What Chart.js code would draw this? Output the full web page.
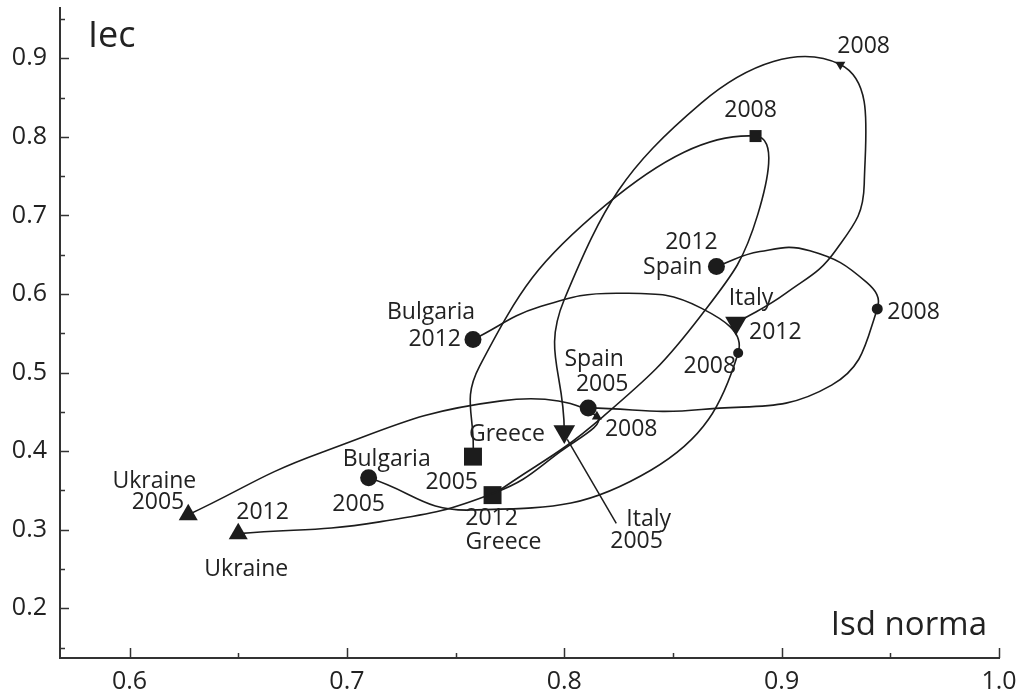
<!DOCTYPE html>
<html>
<head>
<meta charset="utf-8">
<script src="https://cdn.jsdelivr.net/npm/chart.js@4.4.0/dist/chart.umd.min.js"></script>
<style>
  html, body { margin: 0; padding: 0; background: #fff; }
</style>
</head>
<body>
<canvas id="myChart" width="1028" height="700"></canvas>
<script>
// yearly positions, only 2005 / 2008 / 2012 get a marker
const years = [2005, 2006, 2007, 2008, 2009, 2010, 2011, 2012];
const markedYears = [2005, 2008, 2012];

const ukraineIsd = [0.627, 0.688, 0.771, 0.815, 0.798, 0.768, 0.715, 0.650];
const ukraineIec = [0.319, 0.398, 0.464, 0.444, 0.399, 0.347, 0.310, 0.295];

const bulgariaIsd = [0.710, 0.757, 0.840, 0.880, 0.863, 0.826, 0.789, 0.758];
const bulgariaIec = [0.366, 0.325, 0.376, 0.525, 0.582, 0.601, 0.584, 0.542];

const greeceIsd = [0.758, 0.761, 0.819, 0.888, 0.889, 0.863, 0.817, 0.767];
const greeceIec = [0.393, 0.508, 0.713, 0.801, 0.701, 0.573, 0.442, 0.344];

const spainIsd = [0.811, 0.863, 0.923, 0.944, 0.939, 0.913, 0.890, 0.870];
const spainIec = [0.455, 0.453, 0.484, 0.581, 0.615, 0.655, 0.654, 0.635];

const italyIsd = [0.800, 0.800, 0.863, 0.927, 0.938, 0.925, 0.902, 0.879];
const italyIec = [0.425, 0.593, 0.843, 0.892, 0.740, 0.656, 0.601, 0.563];

const xTicks = [0.6, 0.7, 0.8, 0.9, 1.0];
const yTicks = [0.2, 0.3, 0.4, 0.5, 0.6, 0.7, 0.8, 0.9];

const INK = '#1c1c1c';
const FONT = '"Open Sans", "DejaVu Sans", sans-serif';

const countries = [
  { name: 'Ukraine', isd: ukraineIsd, iec: ukraineIec, style: 'triangle', rot: 0, big: 11, small: 5.8 },
  { name: 'Bulgaria', isd: bulgariaIsd, iec: bulgariaIec, style: 'circle', rot: 0, big: 8.5, small: 5 },
  { name: 'Greece', isd: greeceIsd, iec: greeceIec, style: 'rect', rot: 0, big: 12.7, small: 8.5 },
  { name: 'Spain', isd: spainIsd, iec: spainIec, style: 'circle', rot: 0, big: 8.5, small: 5.5 },
  { name: 'Italy', isd: italyIsd, iec: italyIec, style: 'triangle', rot: 180, big: 12.5, small: 5.8 }
];

// text next to markers: offsets in px from the marker
const notes = [
  { c: 'Ukraine', y: 2005, t: 'Ukraine', dx: 8, dy: -33, a: 'right' },
  { c: 'Ukraine', y: 2005, t: '2005', dx: -4, dy: -12, a: 'right' },
  { c: 'Ukraine', y: 2008, t: '2008', dx: 8, dy: 13, a: 'left' },
  { c: 'Ukraine', y: 2012, t: '2012', dx: -2, dy: -21, a: 'left' },
  { c: 'Ukraine', y: 2012, t: 'Ukraine', dx: 8, dy: 36, a: 'center' },
  { c: 'Bulgaria', y: 2005, t: 'Bulgaria', dx: 18, dy: -18, a: 'center' },
  { c: 'Bulgaria', y: 2005, t: '2005', dx: -10, dy: 27, a: 'center' },
  { c: 'Bulgaria', y: 2008, t: '2008', dx: -2, dy: 14, a: 'right' },
  { c: 'Bulgaria', y: 2012, t: 'Bulgaria', dx: -42, dy: -27, a: 'center' },
  { c: 'Bulgaria', y: 2012, t: '2012', dx: -12, dy: 0, a: 'right' },
  { c: 'Greece', y: 2005, t: 'Greece', dx: -4, dy: -22, a: 'left' },
  { c: 'Greece', y: 2005, t: '2005', dx: 5, dy: 26, a: 'right' },
  { c: 'Greece', y: 2008, t: '2008', dx: -5, dy: -26, a: 'center' },
  { c: 'Greece', y: 2012, t: '2012', dx: -1, dy: 23, a: 'center' },
  { c: 'Greece', y: 2012, t: 'Greece', dx: 11, dy: 47, a: 'center' },
  { c: 'Spain', y: 2005, t: 'Spain', dx: 6, dy: -48, a: 'center' },
  { c: 'Spain', y: 2005, t: '2005', dx: 14, dy: -23, a: 'center' },
  { c: 'Spain', y: 2008, t: '2008', dx: 10, dy: 4, a: 'left' },
  { c: 'Spain', y: 2012, t: '2012', dx: -25, dy: -24, a: 'center' },
  { c: 'Spain', y: 2012, t: 'Spain', dx: -14, dy: 1, a: 'right' },
  { c: 'Italy', y: 2005, t: 'Italy', dx: 62, dy: 88, a: 'left' },
  { c: 'Italy', y: 2005, t: '2005', dx: 46, dy: 110, a: 'left' },
  { c: 'Italy', y: 2008, t: '2008', dx: -3, dy: -18, a: 'left' },
  { c: 'Italy', y: 2012, t: 'Italy', dx: 15, dy: -25, a: 'center' },
  { c: 'Italy', y: 2012, t: '2012', dx: 13, dy: 9, a: 'left' }
];

function pointOf(chart, name, year) {
  const c = countries.find(k => k.name === name);
  const i = years.indexOf(year);
  return {
    x: chart.scales.x.getPixelForValue(c.isd[i]),
    y: chart.scales.y.getPixelForValue(c.iec[i])
  };
}

const datasets = countries.map(c => ({
  label: c.name,
  data: years.map((yr, i) => ({ x: c.isd[i], y: c.iec[i] })),
  showLine: true,
  tension: 0.45,
  borderColor: INK,
  borderWidth: 1.6,
  backgroundColor: INK,
  pointBackgroundColor: INK,
  pointBorderWidth: 0,
  pointStyle: c.style,
  rotation: c.rot,
  pointRadius: ctx => {
    const yr = years[ctx.dataIndex];
    if (!markedYears.includes(yr)) return 0;
    return yr === 2008 ? c.small : c.big;
  },
  pointHoverRadius: 0
}));

// inward tick marks, labels and axis names
const decorations = {
  id: 'decorations',
  afterDraw(chart) {
    const ctx = chart.ctx;
    const xs = chart.scales.x, ys = chart.scales.y;
    const area = chart.chartArea;
    ctx.save();
    ctx.strokeStyle = '#333';
    ctx.lineWidth = 1.5;
    const xs2 = xTicks.flatMap(v => [[v, 10], [v - 0.05, 5]]).concat([[xTicks[xTicks.length - 1] + 0.05, 5]]);
    xs2.forEach(([v, len]) => {
      if (v < xs.min - 1e-9 || v > xs.max + 1e-9) return;
      const px = Math.round(xs.getPixelForValue(v)) + 0.5;
      ctx.beginPath();
      ctx.moveTo(px, area.bottom);
      ctx.lineTo(px, area.bottom - len);
      ctx.stroke();
    });
    const ys2 = yTicks.flatMap(v => [[v, 9], [v - 0.05, 5]]).concat([[yTicks[yTicks.length - 1] + 0.05, 5]]);
    ys2.forEach(([v, len]) => {
      if (v < ys.min - 1e-9 || v > ys.max + 1e-9) return;
      const py = Math.round(ys.getPixelForValue(v)) + 0.5;
      ctx.beginPath();
      ctx.moveTo(area.left, py);
      ctx.lineTo(area.left + len, py);
      ctx.stroke();
    });

    // leader line for Italy 2005
    const it = pointOf(chart, 'Italy', 2005);
    ctx.strokeStyle = INK;
    ctx.lineWidth = 1.5;
    ctx.beginPath();
    ctx.moveTo(it.x + 3, it.y + 8);
    ctx.lineTo(it.x + 52, it.y + 92);
    ctx.stroke();

    ctx.fillStyle = '#222';
    ctx.textBaseline = 'middle';
    ctx.font = '23px ' + FONT;
    notes.forEach(n => {
      const p = pointOf(chart, n.c, n.y);
      ctx.textAlign = n.a;
      ctx.fillText(n.t, p.x + n.dx, p.y + n.dy);
    });

    ctx.textBaseline = 'alphabetic';
    ctx.textAlign = 'left';
    ctx.font = '36px ' + FONT;
    ctx.fillText('Iec', area.left + 28, area.top + 39);
    ctx.textAlign = 'right';
    ctx.font = '33px ' + FONT;
    ctx.fillText('Isd norma', area.right - 12, area.bottom - 23);
    ctx.restore();
  }
};

function draw() {
  const el = document.getElementById('myChart');
  new Chart(el, {
    type: 'scatter',
    data: { datasets: datasets },
    options: {
      responsive: false,
      animation: false,
      events: [],
      // no auto padding: big markers would otherwise push the plot top down
      layout: { autoPadding: false, padding: { top: 0, right: 29, left: 0, bottom: 0 } },
      plugins: { legend: { display: false }, tooltip: { enabled: false } },
      scales: {
        x: {
          type: 'linear',
          min: 0.568,
          max: 1.0,
          afterBuildTicks: s => { s.ticks = xTicks.map(v => ({ value: v })); },
          afterFit: s => { s.height = 42; },
          grid: { display: false, drawTicks: false },
          border: { display: true, color: '#333', width: 2 },
          ticks: {
            font: { family: FONT, size: 25 },
            color: '#222',
            padding: 9,
            maxRotation: 0,
            autoSkip: false,
            callback: v => Number(v).toFixed(1)
          }
        },
        y: {
          type: 'linear',
          min: 0.1367,
          max: 0.964,
          afterBuildTicks: s => { s.ticks = yTicks.map(v => ({ value: v })); },
          afterFit: s => { s.width = 60; },
          grid: { display: false, drawTicks: false },
          border: { display: true, color: '#333', width: 2 },
          ticks: {
            // small line height + zero padding keep the plot top near 8px;
            // the gap to the axis comes from two trailing spaces
            font: { family: FONT, size: 25, lineHeight: 0.64 },
            color: '#222',
            padding: 0,
            autoSkip: false,
            callback: v => Number(v).toFixed(1) + '  '
          }
        }
      }
    },
    plugins: [decorations]
  });
}

if (document.fonts && document.fonts.load) {
  document.fonts.load('22px "Open Sans"').then(draw, draw);
} else {
  draw();
}
</script>
</body>
</html>
